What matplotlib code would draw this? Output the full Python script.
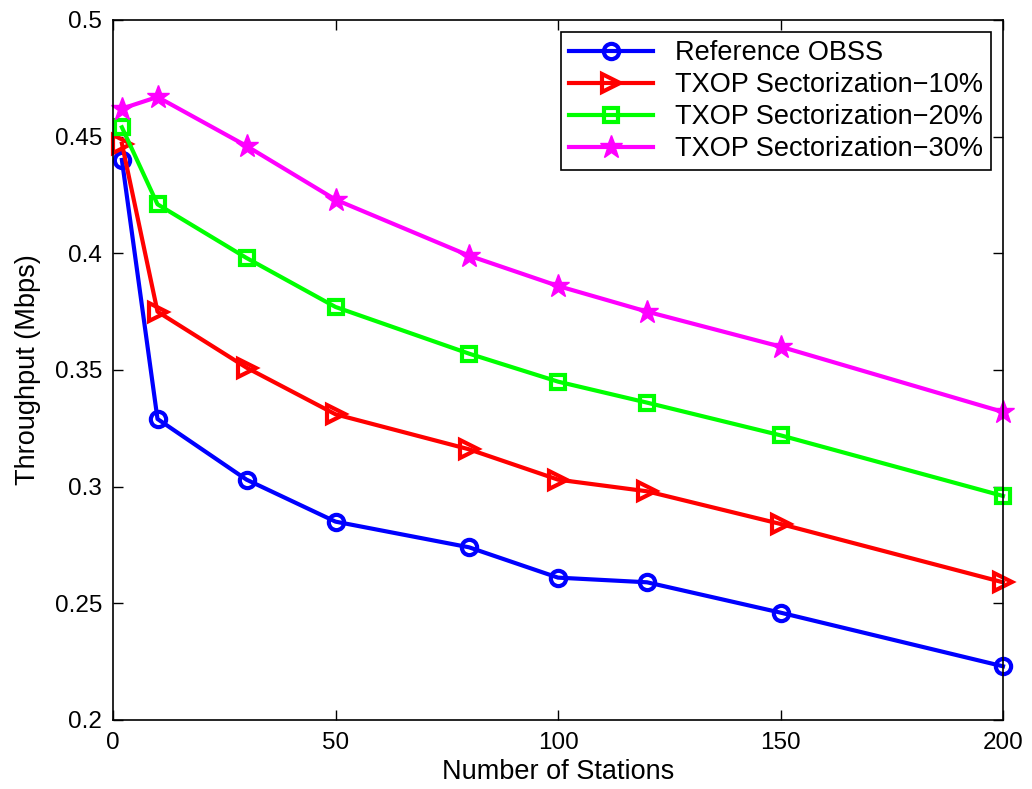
import numpy as np
import matplotlib.pyplot as plt

plt.rcParams['font.family'] = ['Liberation Sans', 'DejaVu Sans']

stations = [2, 10, 30, 50, 80, 100, 120, 150, 200]
ref_obss = [0.440, 0.329, 0.303, 0.285, 0.274, 0.261, 0.259, 0.246, 0.223]
txop_10 = [0.447, 0.375, 0.351, 0.331, 0.316, 0.303, 0.298, 0.284, 0.259]
txop_20 = [0.454, 0.421, 0.398, 0.377, 0.357, 0.345, 0.336, 0.322, 0.296]
txop_30 = [0.462, 0.467, 0.446, 0.423, 0.399, 0.386, 0.375, 0.360, 0.332]

labels = ['Reference OBSS', 'TXOP Sectorization\u221210%',
          'TXOP Sectorization\u221220%', 'TXOP Sectorization\u221230%']

fig = plt.figure(figsize=(10.32, 7.89), dpi=100)
ax = fig.add_axes([0.1095, 0.0875, 0.8624, 0.8872])

ax.plot(stations, ref_obss, color='#0000ff', lw=3, marker='o', ms=11,
        mfc='none', mew=3, label=labels[0], clip_on=False)
ax.plot(stations, txop_10, color='#ff0000', lw=3, marker='>', ms=13,
        mfc='none', mew=3, label=labels[1], clip_on=False)
ax.plot(stations, txop_20, color='#00ff00', lw=3, marker='s', ms=10,
        mfc='none', mew=3, label=labels[2], clip_on=False)
ax.plot(stations, txop_30, color='#ff00ff', lw=3, marker='*', ms=17,
        mew=1, label=labels[3], clip_on=False)

ax.set_xlim(0, 200)
ax.set_ylim(0.2, 0.5)
ax.set_xticks([0, 50, 100, 150, 200])
ax.set_yticks([0.2, 0.25, 0.3, 0.35, 0.4, 0.45, 0.5])
ax.set_yticklabels(['0.2', '0.25', '0.3', '0.35', '0.4', '0.45', '0.5'])
ax.tick_params(direction='in', top=True, right=True, labelsize=17.5, length=7, width=1)
ax.tick_params(axis='x', pad=9)
ax.tick_params(axis='y', pad=8)
for s in ax.spines.values():
    s.set_linewidth(1.2)

ax.set_xlabel('Number of Stations', fontsize=19.5, labelpad=3)
ax.set_ylabel('Throughput (Mbps)', fontsize=19.5, labelpad=10)

leg = ax.legend(loc='upper right', fontsize=19.5, fancybox=False, edgecolor='black',
                framealpha=1, handlelength=3.1, borderaxespad=0.45, labelspacing=0.22,
                borderpad=0.3)
leg.get_frame().set_linewidth(1.2)

fig.savefig('out.png', dpi=100)
